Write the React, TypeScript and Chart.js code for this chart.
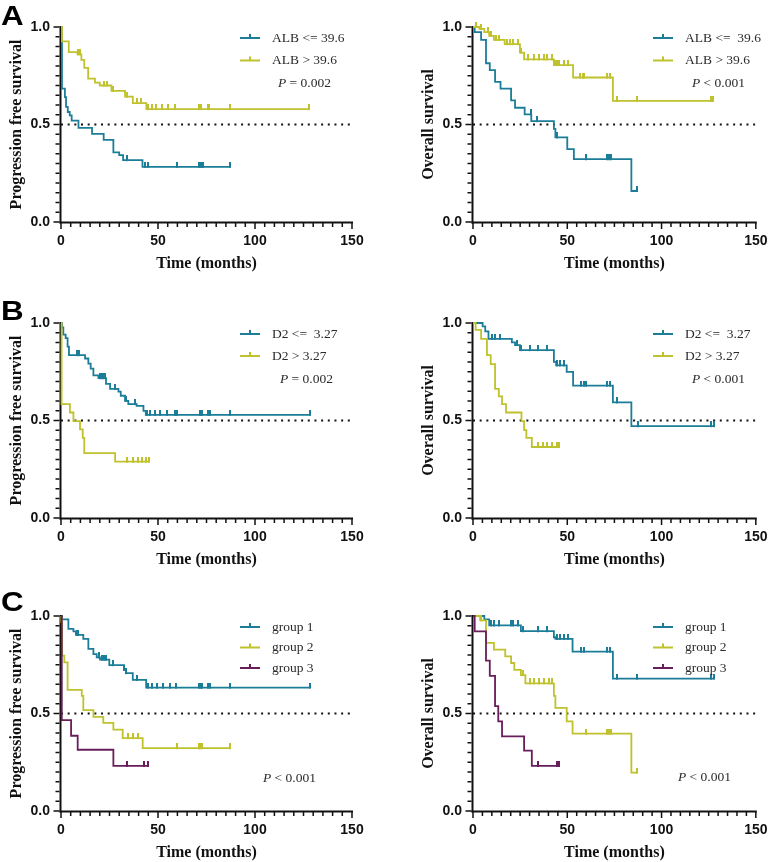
import React, { useEffect, useRef } from 'react';
import { Chart, registerables } from 'chart.js';
Chart.register(...registerables);

const TEAL = '#1c7d98';
const YEL = '#bfc22c';
const PUR = '#6a1d5b';

// ---------- Panel A (left): PFS by ALB ----------
const pfsAlbLowT = [0, 0.5, 2, 2.6, 3.5, 4.5, 5.5, 9, 16, 22, 27, 30, 32, 42];
const pfsAlbLowS = [1, 0.684, 0.64, 0.59, 0.564, 0.547, 0.52, 0.483, 0.452, 0.421, 0.357, 0.343, 0.317, 0.283];
const pfsAlbLowC = [34, 43.5, 45, 60, 71, 72, 73, 87];
const pfsAlbHighT = [0, 0.5, 4, 8.5, 10.5, 12, 14, 17.5, 20, 26, 33, 37, 44];
const pfsAlbHighS = [1, 0.926, 0.871, 0.86, 0.831, 0.79, 0.735, 0.715, 0.7, 0.672, 0.643, 0.61, 0.579];
const pfsAlbHighC = [9, 9.8, 22, 23.5, 27, 34, 39, 41, 45, 47, 49, 52, 55, 59, 71, 72, 76, 76.5, 87, 128];

// ---------- Panel A (right): OS by ALB ----------
const osAlbLowT = [0, 0.9, 4.3, 6.9, 8.9, 11.7, 14.6, 20.2, 22.3, 27.4, 30.9, 42.9, 43.7, 50, 53.5, 84];
const osAlbLowS = [1, 0.974, 0.934, 0.814, 0.779, 0.719, 0.684, 0.624, 0.586, 0.552, 0.517, 0.478, 0.434, 0.374, 0.322, 0.159];
const osAlbLowC = [30.5, 34, 44.6, 60, 71.1, 72.3, 73, 86.9];
const osAlbHighT = [0, 3.4, 6, 8.6, 11.1, 16.8, 24.9, 27.1, 42.9, 53.1, 74.2];
const osAlbHighS = [1, 0.99, 0.974, 0.955, 0.934, 0.912, 0.869, 0.834, 0.805, 0.741, 0.621];
const osAlbHighC = [1.4, 4.3, 7.7, 9.4, 12.3, 13.7, 18, 19.7, 21, 24, 25.4, 29.1, 32.6, 35.1, 37.7, 39.4, 42, 43.4, 44.6, 45.4, 48, 50.6, 56.6, 58.3, 59.1, 71.1, 72.9, 76.3, 86.9, 126, 127.2];

// ---------- Panel B (left): PFS by D2 ----------
const pfsD2LowT = [0, 0.5, 1.2, 2.4, 3.4, 4.1, 12.4, 14.1, 15.3, 16.7, 19.3, 23.2, 25.3, 29.6, 30.8, 33, 34.7, 39, 42.5, 43.7];
const pfsD2LowS = [1, 0.977, 0.94, 0.922, 0.879, 0.835, 0.818, 0.792, 0.766, 0.731, 0.717, 0.688, 0.662, 0.648, 0.627, 0.601, 0.584, 0.575, 0.549, 0.529];
const pfsD2LowC = [8.4, 9.5, 20.1, 21, 21.8, 22.7, 27.9, 33.5, 38.2, 44.2, 45.9, 48.5, 51.1, 54.5, 58.8, 59.7, 71.4, 72.1, 72.6, 76, 76.9, 87.2, 128.2];
const pfsD2HighT = [0, 0.3, 4.6, 6.4, 9.8, 11.2, 12, 27.9];
const pfsD2HighS = [1, 0.584, 0.541, 0.497, 0.454, 0.411, 0.333, 0.289];
const pfsD2HighC = [33.9, 37, 39.6, 41.6, 43.7, 45.4];

// ---------- Panel B (right): OS by D2 ----------
const osD2LowT = [0, 5.1, 6.5, 8.2, 20.6, 22.3, 24.9, 42.9, 44.1, 49.7, 53.1, 74.2, 84];
const osD2LowS = [1, 0.983, 0.957, 0.919, 0.901, 0.887, 0.861, 0.801, 0.783, 0.749, 0.679, 0.593, 0.471];
const osD2LowC = [10.3, 11.7, 14.1, 23.1, 25.7, 30, 34.3, 39.4, 44.6, 46.3, 48, 57.4, 59.1, 60, 71.1, 72.9, 76.3, 87.4, 126, 127.7];
const osD2HighT = [0, 1.4, 4.3, 7.4, 9.4, 11.7, 13.7, 15.4, 17.5, 25.7, 27.1, 28.3, 31.2];
const osD2HighS = [1, 0.965, 0.919, 0.835, 0.789, 0.662, 0.624, 0.584, 0.541, 0.497, 0.451, 0.411, 0.364];
const osD2HighC = [34.3, 36.9, 39.4, 42, 44.6, 45.4];

// ---------- Panel C (left): PFS by group ----------
const pfsG1T = [0, 0.5, 3.8, 6.4, 7.7, 11.5, 14.1, 16.7, 18.4, 20.1, 24.9, 32.5, 33.5, 37, 43.9];
const pfsG1S = [1, 0.983, 0.934, 0.921, 0.903, 0.883, 0.831, 0.805, 0.788, 0.776, 0.748, 0.724, 0.707, 0.672, 0.633];
const pfsG1C = [8.1, 8.9, 19.8, 21, 22.2, 23.2, 26.7, 32.6, 33.6, 39, 45.1, 46.8, 49.4, 52.8, 56.3, 59.2, 71.2, 72.1, 72.8, 76, 76.9, 86.9, 128.2];
const pfsG2T = [0, 0.2, 0.6, 1.7, 3.4, 10.7, 11.5, 16.7, 21.8, 27, 31.8, 42.1];
const pfsG2S = [1, 0.97, 0.797, 0.762, 0.621, 0.59, 0.517, 0.483, 0.452, 0.417, 0.374, 0.322];
const pfsG2C = [34.7, 37.3, 39.9, 60, 70.9, 71.7, 72.6, 87.2];
const pfsG3T = [0, 0.4, 5.2, 8.6, 27];
const pfsG3S = [1, 0.466, 0.386, 0.314, 0.231];
const pfsG3C = [33.9, 42.8, 45.1];

// ---------- Panel C (right): OS by group ----------
const osG1T = [0, 6, 8.6, 25.4, 42.9, 43.7, 52.8, 74.2];
const osG1S = [1, 0.983, 0.952, 0.922, 0.891, 0.883, 0.817, 0.679];
const osG1C = [9.4, 11.1, 13.7, 20.2, 21.4, 23.7, 26.6, 34.3, 39.1, 44.6, 46.3, 48, 50.6, 57.4, 59.1, 71.1, 72.9, 76.3, 86.9, 126, 127.7];
const osG2T = [0, 3.8, 6.9, 11.1, 17.1, 20.2, 21.9, 25.4, 27.8, 42.9, 43.7, 49.7, 52.8, 84];
const osG2S = [1, 0.978, 0.862, 0.828, 0.793, 0.759, 0.724, 0.697, 0.655, 0.59, 0.529, 0.46, 0.397, 0.197];
const osG2C = [4.3, 26.6, 30, 32.6, 35.1, 37.7, 40.3, 42, 60, 71.1, 72.3, 73.4, 86.9];
const osG3T = [0, 0.9, 6.9, 8.9, 11.7, 13.4, 15.4, 27.1, 31.2];
const osG3S = [1, 0.921, 0.771, 0.693, 0.538, 0.46, 0.383, 0.31, 0.231];
const osG3C = [34.3, 44.6, 45.4];

const xTickValues = [0, 50, 100, 150];
const yTickValues = [0, 0.5, 1];
const medianLine = 0.5;

type Curve = { t: number[]; s: number[]; c: number[]; color: string; label: string };
type Panel = {
  key: string;
  left: number;
  top: number;
  width: number;
  padR: number;
  yTitle: string;
  curves: Curve[];
  lx0: number;
  tx: number;
  rows: number[];
  pX: number;
  pY: number;
  pRest: string;
};

const PFS = 'Progression free survival';
const OS = 'Overall survival';

const panels: Panel[] = [
  {
    key: 'al', left: 0, top: 0, width: 389, padR: 37, yTitle: PFS,
    curves: [
      { t: pfsAlbLowT, s: pfsAlbLowS, c: pfsAlbLowC, color: TEAL, label: 'ALB <= 39.6' },
      { t: pfsAlbHighT, s: pfsAlbHighS, c: pfsAlbHighC, color: YEL, label: 'ALB > 39.6' },
    ],
    lx0: 240, tx: 272, rows: [38, 60.5], pX: 278, pY: 83, pRest: ' = 0.002',
  },
  {
    key: 'ar', left: 412, top: 0, width: 366, padR: 14, yTitle: OS,
    curves: [
      { t: osAlbLowT, s: osAlbLowS, c: osAlbLowC, color: TEAL, label: 'ALB <=  39.6' },
      { t: osAlbHighT, s: osAlbHighS, c: osAlbHighC, color: YEL, label: 'ALB > 39.6' },
    ],
    lx0: 241, tx: 273, rows: [38, 60.5], pX: 280, pY: 83, pRest: ' < 0.001',
  },
  {
    key: 'bl', left: 0, top: 296, width: 389, padR: 37, yTitle: PFS,
    curves: [
      { t: pfsD2LowT, s: pfsD2LowS, c: pfsD2LowC, color: TEAL, label: 'D2 <=  3.27' },
      { t: pfsD2HighT, s: pfsD2HighS, c: pfsD2HighC, color: YEL, label: 'D2 > 3.27' },
    ],
    lx0: 240, tx: 272, rows: [38, 60], pX: 280, pY: 83, pRest: ' = 0.002',
  },
  {
    key: 'br', left: 412, top: 296, width: 366, padR: 14, yTitle: OS,
    curves: [
      { t: osD2LowT, s: osD2LowS, c: osD2LowC, color: TEAL, label: 'D2 <=  3.27' },
      { t: osD2HighT, s: osD2HighS, c: osD2HighC, color: YEL, label: 'D2 > 3.27' },
    ],
    lx0: 241, tx: 273, rows: [38, 60], pX: 280, pY: 83, pRest: ' < 0.001',
  },
  {
    key: 'cl', left: 0, top: 589, width: 389, padR: 37, yTitle: PFS,
    curves: [
      { t: pfsG1T, s: pfsG1S, c: pfsG1C, color: TEAL, label: 'group 1' },
      { t: pfsG2T, s: pfsG2S, c: pfsG2C, color: YEL, label: 'group 2' },
      { t: pfsG3T, s: pfsG3S, c: pfsG3C, color: PUR, label: 'group 3' },
    ],
    lx0: 240, tx: 272, rows: [38, 58.5, 79], pX: 263, pY: 189, pRest: ' < 0.001',
  },
  {
    key: 'cr', left: 412, top: 589, width: 366, padR: 14, yTitle: OS,
    curves: [
      { t: osG1T, s: osG1S, c: osG1C, color: TEAL, label: 'group 1' },
      { t: osG2T, s: osG2S, c: osG2C, color: YEL, label: 'group 2' },
      { t: osG3T, s: osG3S, c: osG3C, color: PUR, label: 'group 3' },
    ],
    lx0: 241, tx: 273, rows: [38, 58.5, 79], pX: 266, pY: 188, pRest: ' < 0.001',
  },
];

const CANVAS_H = 273;
const SANS = '"Liberation Sans", Arial, Helvetica, sans-serif';
const SERIF = '"Liberation Serif", "Times New Roman", Times, serif';

function survAt(t: number[], s: number[], x: number) {
  let v = s[0];
  for (let i = 0; i < t.length; i++) if (t[i] <= x) v = s[i];
  return v;
}

function makeTick(color: string) {
  const c = document.createElement('canvas');
  c.width = 2;
  c.height = 10;
  const g = c.getContext('2d')!;
  g.fillStyle = color;
  g.fillRect(0, 0, 2, 6);
  return c;
}

function decor(p: Panel) {
  return {
    id: 'decor_' + p.key,
    beforeDatasetsDraw(chart: any) {
      const { ctx, chartArea: a, scales } = chart;
      const xs = scales.x;
      const ys = scales.y;
      ctx.save();
      ctx.strokeStyle = '#111';
      ctx.lineWidth = 2;
      ctx.beginPath();
      ctx.moveTo(a.left - 0.5, a.top - 1);
      ctx.lineTo(a.left - 0.5, a.bottom + 1.5);
      ctx.stroke();
      ctx.beginPath();
      ctx.moveTo(a.left - 1.5, a.bottom + 0.5);
      ctx.lineTo(a.right + 1, a.bottom + 0.5);
      ctx.stroke();
      ctx.lineWidth = 1.5;
      ctx.beginPath();
      for (let i = 0; i <= 30; i++) {
        const px = xs.getPixelForValue(i * 5);
        const len = i % 10 === 0 ? 6 : 4;
        ctx.moveTo(px, a.bottom + 1);
        ctx.lineTo(px, a.bottom + 1 + len);
      }
      for (let i = 0; i <= 20; i++) {
        const py = ys.getPixelForValue(i * 0.05);
        const len = i % 10 === 0 ? 6 : 4;
        ctx.moveTo(a.left - 1.5, py);
        ctx.lineTo(a.left - 1.5 - len, py);
      }
      ctx.stroke();
      ctx.restore();
    },
    afterDatasetsDraw(chart: any) {
      const { ctx } = chart;
      ctx.save();
      p.curves.forEach((cv, i) => {
        const y = p.rows[i];
        ctx.strokeStyle = cv.color;
        ctx.lineWidth = 2;
        ctx.beginPath();
        ctx.moveTo(p.lx0, y);
        ctx.lineTo(p.lx0 + 20, y);
        ctx.stroke();
        ctx.beginPath();
        ctx.moveTo(p.lx0 + 10, y);
        ctx.lineTo(p.lx0 + 10, y - 4);
        ctx.stroke();
        ctx.fillStyle = '#2a2a2a';
        ctx.font = '13.5px ' + SERIF;
        ctx.textBaseline = 'middle';
        ctx.textAlign = 'left';
        ctx.fillText(cv.label, p.tx, y);
      });
      ctx.fillStyle = '#2a2a2a';
      ctx.textBaseline = 'middle';
      ctx.font = 'italic 13.5px ' + SERIF;
      ctx.fillText('P', p.pX, p.pY);
      const w = ctx.measureText('P').width;
      ctx.font = '13.5px ' + SERIF;
      ctx.fillText(p.pRest, p.pX + w, p.pY);
      ctx.restore();
    },
  };
}

function buildConfig(p: Panel): any {
  const datasets: any[] = [];
  datasets.push({
    data: [{ x: 0, y: medianLine }, { x: 150, y: medianLine }],
    borderColor: '#111',
    borderWidth: 2,
    borderDash: [2, 4.67],
    pointRadius: 0,
    order: 10,
  });
  p.curves.forEach((cv, idx) => {
    const endT = Math.max(cv.t[cv.t.length - 1], ...cv.c);
    const pts = cv.t.map((t, i) => ({ x: t, y: cv.s[i] }));
    pts.push({ x: endT, y: cv.s[cv.s.length - 1] });
    datasets.push({
      data: pts,
      borderColor: cv.color,
      borderWidth: 1.8,
      stepped: 'before',
      pointRadius: 0,
      fill: false,
      clip: false,
      order: 5 - idx,
    });
    datasets.push({
      data: cv.c.map((c) => ({ x: c, y: survAt(cv.t, cv.s, c) })),
      showLine: false,
      pointStyle: makeTick(cv.color),
      pointRadius: 3,
      borderColor: cv.color,
      backgroundColor: cv.color,
      clip: false,
      order: 5 - idx,
    });
  });
  return {
    type: 'line',
    data: { datasets },
    options: {
      responsive: false,
      animation: false,
      events: [],
      layout: { padding: { left: 0, right: p.padR, top: 27, bottom: 0 } },
      plugins: { legend: { display: false }, tooltip: { enabled: false } },
      scales: {
        x: {
          type: 'linear',
          min: 0,
          max: 150,
          afterFit: (s: any) => { s.height = 51; },
          afterBuildTicks: (s: any) => { s.ticks = xTickValues.map((v) => ({ value: v })); },
          grid: { display: false, drawTicks: false },
          border: { display: false },
          ticks: {
            padding: 10.5,
            color: '#111',
            maxRotation: 0,
            autoSkip: false,
            font: { family: SANS, size: 14, weight: 'bold' },
          },
          title: {
            display: true,
            text: 'Time (months)',
            color: '#111',
            font: { family: SERIF, size: 16, weight: 'bold' },
            padding: { top: 0, bottom: 0 },
          },
        },
        y: {
          type: 'linear',
          min: 0,
          max: 1,
          afterFit: (s: any) => { s.width = 61; },
          afterBuildTicks: (s: any) => { s.ticks = yTickValues.map((v) => ({ value: v })); },
          grid: { display: false, drawTicks: false },
          border: { display: false },
          ticks: {
            padding: 11,
            color: '#111',
            autoSkip: false,
            callback: (v: any) => Number(v).toFixed(1),
            font: { family: SANS, size: 14, weight: 'bold' },
          },
          title: {
            display: true,
            text: p.yTitle,
            color: '#111',
            font: { family: SERIF, size: 16, weight: 'bold' },
            padding: { top: 7, bottom: 0 },
          },
        },
      },
    },
    plugins: [decor(p)],
  };
}

function KMPanel({ p }: { p: Panel }) {
  const ref = useRef<HTMLCanvasElement | null>(null);
  useEffect(() => {
    if (!ref.current) return;
    const chart = new Chart(ref.current, buildConfig(p));
    return () => chart.destroy();
  }, [p]);
  return (
    <canvas
      ref={ref}
      width={p.width}
      height={CANVAS_H}
      style={{ position: 'absolute', left: p.left, top: p.top, width: p.width, height: CANVAS_H }}
    />
  );
}

const letters = [
  { text: 'A', top: 1.5 },
  { text: 'B', top: 296.5 },
  { text: 'C', top: 587.5 },
];

export default function App() {
  return (
    <div style={{ position: 'absolute', left: 0, top: 0, width: 778, height: 862, background: '#fff', overflow: 'hidden' }}>
      {panels.map((p) => (
        <KMPanel key={p.key} p={p} />
      ))}
      {letters.map((l) => (
        <div
          key={l.text}
          style={{
            position: 'absolute',
            left: 1,
            top: l.top,
            fontFamily: SANS,
            fontWeight: 'bold',
            fontSize: 28,
            lineHeight: '28px',
            color: '#000',
            transform: 'scaleX(1.12)',
            transformOrigin: 'left top',
          }}
        >
          {l.text}
        </div>
      ))}
    </div>
  );
}
